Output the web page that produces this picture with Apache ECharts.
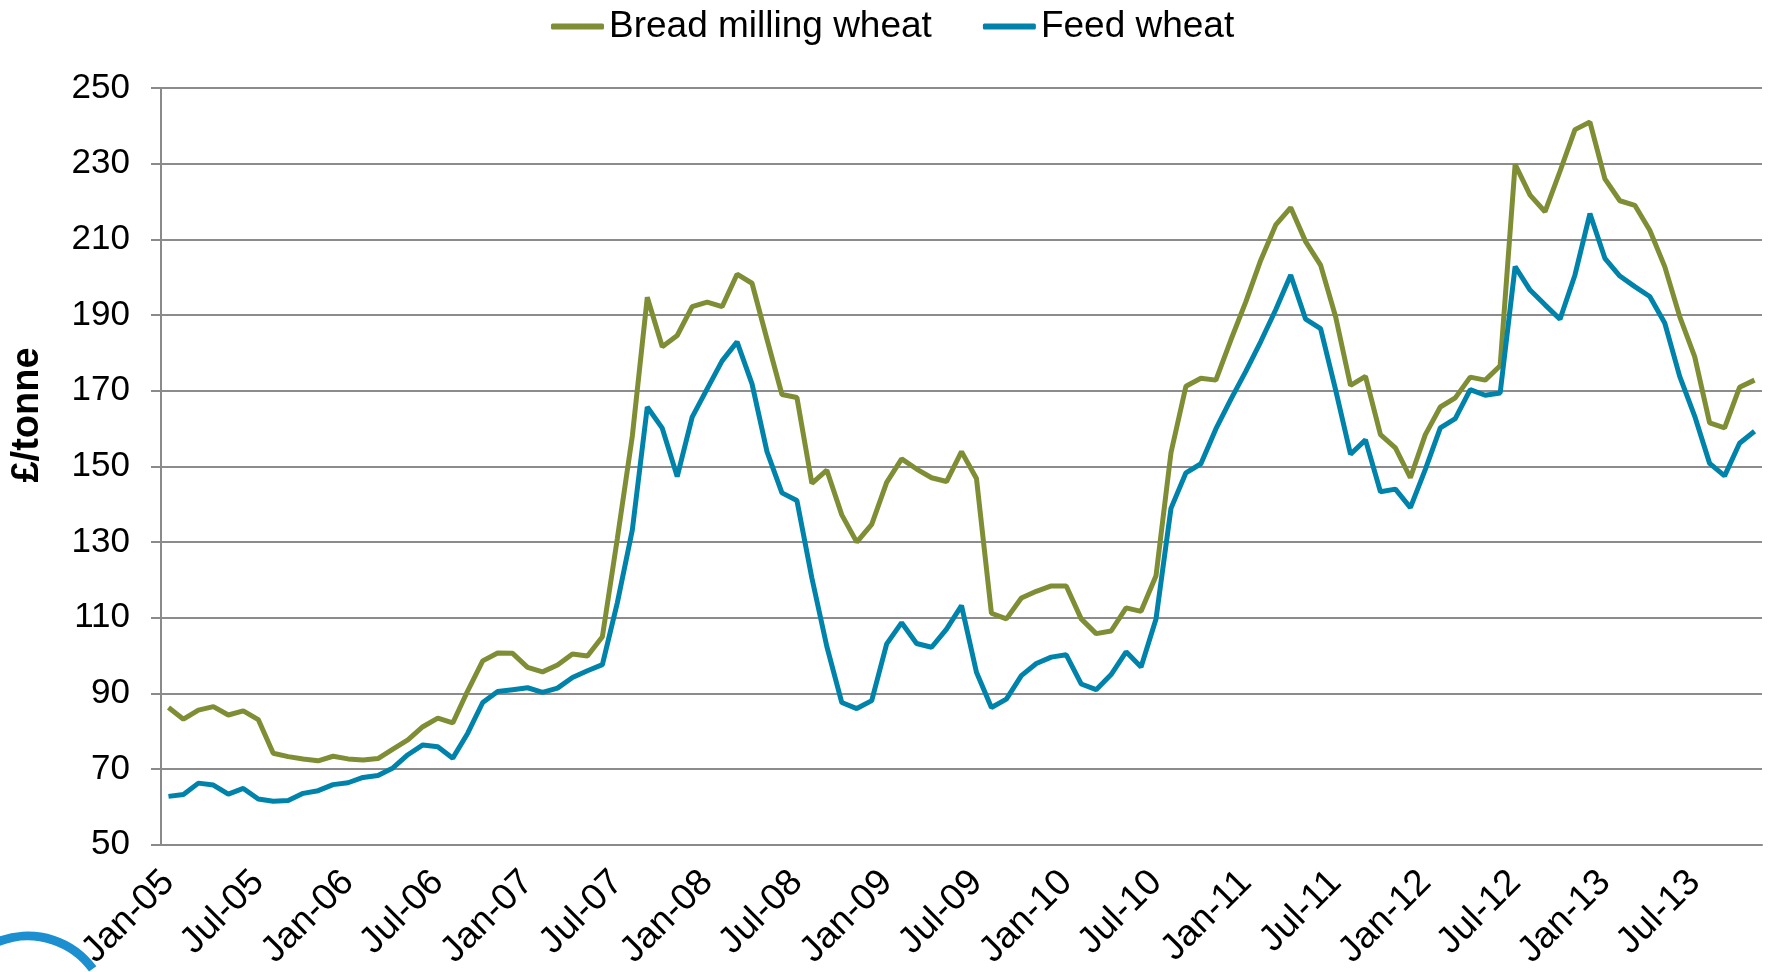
<!DOCTYPE html>
<html>
<head>
<meta charset="utf-8">
<title>Wheat prices</title>
<script src="https://cdn.jsdelivr.net/npm/echarts@6/dist/echarts.min.js"></script>
<style>
  html, body { margin: 0; padding: 0; background: #fff; }
  #chart { width: 1775px; height: 972px; }
</style>
</head>
<body>
<div id="chart"></div>
<script>
// months Jan-05 .. Nov-13
var monthNames = ["Jan", "Feb", "Mar", "Apr", "May", "Jun", "Jul", "Aug", "Sep", "Oct", "Nov", "Dec"];
var years = ["05", "06", "07", "08", "09", "10", "11", "12", "13"];
var monthCount = 107;

var yTicks = { min: 50, max: 250, step: 20 };

var breadMilling = [
  86.3, 83.2, 85.6, 86.5, 84.3, 85.4, 83.1, 74.2, 73.3, 72.7, 72.2, 73.4,
  72.7, 72.4, 72.8, 75.3, 77.7, 81.2, 83.5, 82.2, 90.7, 98.6, 100.7, 100.6,
  96.9, 95.7, 97.5, 100.4, 99.9, 105, 131, 158, 194.7, 181.6, 184.6, 192.2,
  193.4, 192.2, 200.8, 198.4, 183.6, 169, 168.2, 145.5, 149, 137.2, 130, 134.7,
  145.8, 152, 149.3, 147, 146, 153.9, 146.8, 111.2, 109.7, 115.2, 117, 118.4,
  118.4, 109.7, 105.8, 106.5, 112.6, 111.7, 121.1, 153.6, 171.2, 173.3, 172.8, 183.4,
  193.5, 204.5, 213.8, 218.4, 209.4, 203.2, 189.6, 171.4, 173.8, 158.4, 154.9, 147,
  158.4, 165.7, 168.1, 173.6, 172.8, 176.6, 229.8, 221.7, 217.3, 228, 239, 241,
  226, 220.2, 219, 212.4, 202.8, 189.6, 179, 161.5, 160.2, 170.9, 172.8
];

var feedWheat = [
  62.8, 63.3, 66.3, 65.8, 63.4, 64.9, 62.1, 61.5, 61.7, 63.6, 64.3, 65.9,
  66.4, 67.8, 68.3, 70.3, 73.8, 76.4, 75.9, 72.9, 79.5, 87.6, 90.5, 91,
  91.5, 90.3, 91.4, 94.2, 96, 97.6, 114, 133.2, 165.7, 160.1, 147.3, 163,
  170.5, 177.9, 182.9, 171.8, 153.9, 143, 141, 120.5, 102.4, 87.6, 86, 88.1,
  103.1, 108.7, 103.2, 102.2, 107, 113.2, 95.6, 86.3, 88.5, 94.7, 97.9, 99.6,
  100.2, 92.5, 91, 95, 101, 97, 109.7, 138.9, 148.3, 150.7, 159.9, 167.7,
  175.1, 183, 191.4, 200.6, 188.9, 186.4, 170.3, 153.2, 157, 143.3, 144, 139.1,
  149.2, 160.2, 162.6, 170.3, 168.8, 169.4, 202.8, 196.6, 192.7, 188.9, 200.6, 216.8,
  205, 200.3, 197.5, 194.9, 187.9, 173.8, 163.3, 150.8, 147.5, 156.1, 159.3
];

var categories = [];
for (var i = 0; i < monthCount; i++) {
  categories.push(monthNames[i % 12] + "-" + years[Math.floor(i / 12)]);
}

var FONT = "Liberation Sans, Arial, sans-serif";
var chart = echarts.init(document.getElementById("chart"));

chart.setOption({
  animation: false,
  color: ["#7f8e35", "#0083ab"],
  legend: {
    left: 546,
    top: 3,
    itemWidth: 53,
    itemHeight: 6,
    itemGap: 51,
    icon: "roundRect",
    textStyle: { fontFamily: FONT, fontSize: 37, color: "#000" },
    data: ["Bread milling wheat", "Feed wheat"]
  },
  grid: { left: 161, right: 13, top: 88, bottom: 126 },
  xAxis: {
    type: "category",
    data: categories,
    boundaryGap: true,
    axisLine: { lineStyle: { color: "#8a8a8a", width: 2 } },
    axisTick: { interval: 5, length: 11, lineStyle: { color: "#8a8a8a", width: 2 } },
    axisLabel: {
      interval: 5,
      rotate: 45,
      margin: 32,
      fontFamily: FONT,
      fontSize: 37,
      color: "#000"
    },
    splitLine: { show: false }
  },
  yAxis: {
    type: "value",
    min: yTicks.min,
    max: yTicks.max,
    interval: yTicks.step,
    axisLine: { show: true, lineStyle: { color: "#8a8a8a", width: 2 } },
    axisTick: { show: true, length: 10, lineStyle: { color: "#8a8a8a", width: 2 } },
    axisLabel: { margin: 31, fontFamily: FONT, fontSize: 35, color: "#000" },
    splitLine: { lineStyle: { color: "#8c8c8c", width: 2 } }
  },
  graphic: [
    {
      type: "text",
      x: 28,
      y: 415,
      rotation: Math.PI / 2,
      style: {
        text: "£/tonne",
        fontFamily: FONT,
        fontSize: 38,
        fontWeight: "bold",
        fill: "#000",
        align: "center",
        verticalAlign: "middle"
      }
    },
    {
      type: "arc",
      shape: { cx: 28, cy: 1016, r: 80, startAngle: Math.PI * 1.1, endAngle: Math.PI * 1.8 },
      style: { stroke: "#1b8fcf", lineWidth: 9, fill: null }
    }
  ],
  series: [
    {
      name: "Bread milling wheat",
      type: "line",
      data: breadMilling,
      symbol: "none",
      lineStyle: { width: 5 }
    },
    {
      name: "Feed wheat",
      type: "line",
      data: feedWheat,
      symbol: "none",
      lineStyle: { width: 5 }
    }
  ]
});

window.addEventListener("resize", function () {
  chart.resize();
});
</script>
</body>
</html>
